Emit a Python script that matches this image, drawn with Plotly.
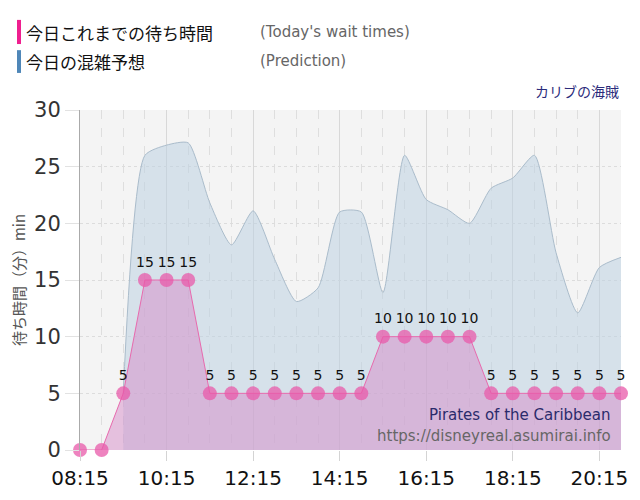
import plotly.graph_objects as go

# 実績 (30分ごと)
times = ['08:15', '08:45', '09:15', '09:45', '10:15', '10:45', '11:15', '11:45',
         '12:15', '12:45', '13:15', '13:45', '14:15', '14:45', '15:15', '15:45',
         '16:15', '16:45', '17:15', '17:45', '18:15', '18:45', '19:15', '19:45',
         '20:15', '20:45']
waits = [0, 0, 5, 15, 15, 15, 5, 5, 5, 5, 5, 5, 5, 5, 10, 10, 10, 10, 10,
         5, 5, 5, 5, 5, 5, 5]

# 予想
pred_times = times[2:]
pred_waits = [5, 26, 26.9, 27.1, 21.8, 18.1, 21.1, 16.8, 13.1, 14.3, 21.0, 21.0,
              13.9, 26.0, 22.1, 21.2, 20.0, 23.1, 24.0, 26.0, 17.4, 12.1, 16.1, 17.0]

day = '2024-01-01 '
x = [day + t for t in times]
px = [day + t for t in pred_times]
labels = [str(v) if v else '' for v in waits]

jp = 'Noto Sans CJK JP'
fig = go.Figure()
fig.add_trace(go.Scatter(
    x=px, y=pred_waits, mode='lines', line=dict(color='#aabccb', width=1, shape='spline', smoothing=0.6),
    fill='tozeroy', fillcolor='rgba(190,210,226,0.55)', hoverinfo='skip'))
fig.add_trace(go.Scatter(
    x=x, y=waits, mode='lines+markers+text', text=labels, textposition='top center',
    textfont=dict(family='DejaVu Sans', size=14, color='#111'),
    line=dict(color='#e86aae', width=1),
    marker=dict(size=14, color='rgba(232,90,170,0.75)'),
    fill='tozeroy', fillcolor='rgba(214,140,200,0.5)', cliponaxis=False))

# ページ余白 8px を差し引いたサイズ
fig.update_layout(
    width=632, height=492, showlegend=False,
    margin=dict(l=72, r=19, t=102, b=50),
    paper_bgcolor='white', plot_bgcolor='#f4f4f4',
    font=dict(family='DejaVu Sans', color='#333'),
    xaxis=dict(range=[x[0], x[-1]], type='date', tickformat='%H:%M',
               tick0=x[0], dtick=2 * 3600 * 1000, automargin=False,
               tickfont=dict(size=20, color='#111'), ticks='outside', ticklen=10,
               tickcolor='#d4d4d4', showgrid=True, gridcolor='#d8d8d8', gridwidth=1,
               minor=dict(dtick=30 * 60 * 1000, showgrid=True, gridcolor='#dedede',
                          griddash='dash', tick0=x[0]),
               zeroline=False, showline=False),
    yaxis=dict(range=[0, 30], dtick=5, tickfont=dict(size=21, color='#333'), automargin=False,
               showgrid=True, gridcolor='#dcdcdc', griddash='dot', zeroline=False,
               showline=True, linecolor='#aaa', ticks='outside', ticklen=14, tickcolor='#e2e2e2',
               title=dict(text='待ち時間（分）min', font=dict(family=jp, size=15, color='#555'),
                          standoff=8)),
)

# 凡例風の見出し
fig.add_shape(type='rect', xref='paper', yref='paper', x0=-0.1165, x1=-0.109,
              y0=1.194, y1=1.265, fillcolor='#ef1f8f', line_width=0)
fig.add_shape(type='rect', xref='paper', yref='paper', x0=-0.1165, x1=-0.109,
              y0=1.109, y1=1.176, fillcolor='#4f87b8', line_width=0)
heads = [('今日これまでの待ち時間', "(Today's wait times)", 1.229),
         ('今日の混雑予想', '(Prediction)', 1.144)]
for jt, et, yy in heads:
    fig.add_annotation(xref='paper', yref='paper', x=-0.104, y=yy, text=jt, showarrow=False,
                       xanchor='left', yanchor='middle', font=dict(family=jp, size=17, color='#111'))
    fig.add_annotation(xref='paper', yref='paper', x=0.329, y=yy, text=et, showarrow=False,
                       xanchor='left', yanchor='middle', font=dict(family='DejaVu Sans', size=15, color='#666'))
fig.add_annotation(xref='paper', yref='paper', x=1.0, y=1.056, text='カリブの海賊', showarrow=False,
                   xanchor='right', yanchor='middle', font=dict(family=jp, size=14, color='#2b2b7b'))
fig.add_annotation(xref='paper', yref='paper', x=0.985, y=0.103, text='Pirates of the Caribbean',
                   showarrow=False, xanchor='right', yanchor='middle',
                   font=dict(family='DejaVu Sans', size=15, color='#2b2b6b'))
fig.add_annotation(xref='paper', yref='paper', x=0.985, y=0.041, text='https://disneyreal.asumirai.info',
                   showarrow=False, xanchor='right', yanchor='middle',
                   font=dict(family='DejaVu Sans', size=15, color='#666'))

fig.write_html('out.html')
